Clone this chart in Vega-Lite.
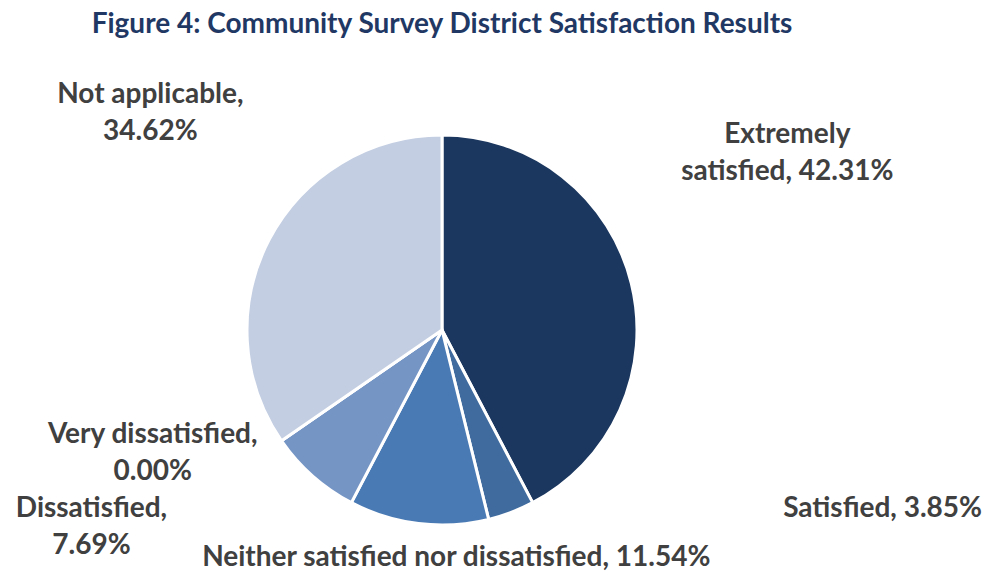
{
  "$schema": "https://vega.github.io/schema/vega-lite/v6.json",
  "width": 884,
  "height": 450,
  "autosize": {"type": "none"},
  "padding": {"left": 0, "top": 105, "right": 107, "bottom": 20},
  "background": "white",
  "title": {
    "text": "Figure 4: Community Survey District Satisfaction Results",
    "font": "Lato",
    "fontSize": 28,
    "fontWeight": "bold",
    "color": "#1f3864",
    "anchor": "middle",
    "frame": "group",
    "baseline": "alphabetic",
    "offset": 8
  },
  "data": {
    "values": [
      {"category": "Extremely satisfied", "label": "Extremely\nsatisfied, 42.31%", "value": 42.31},
      {"category": "Satisfied", "label": "Satisfied, 3.85%", "value": 3.85},
      {"category": "Neither satisfied nor dissatisfied", "label": "Neither satisfied nor dissatisfied, 11.54%", "value": 11.54},
      {"category": "Dissatisfied", "label": "Dissatisfied,\n7.69%", "value": 7.69},
      {"category": "Very dissatisfied", "label": "Very dissatisfied,\n0.00%", "value": 0},
      {"category": "Not applicable", "label": "Not applicable,\n34.62%", "value": 34.62}
    ]
  },
  "transform": [{"window": [{"op": "row_number", "as": "idx"}]}],
  "encoding": {
    "theta": {"field": "value", "type": "quantitative", "stack": true},
    "order": {"field": "idx", "type": "quantitative"}
  },
  "layer": [
    {
      "mark": {"type": "arc", "outerRadius": 195, "stroke": "white", "strokeWidth": 3},
      "encoding": {
        "color": {
          "field": "category",
          "type": "nominal",
          "scale": {
            "domain": ["Extremely satisfied", "Satisfied", "Neither satisfied nor dissatisfied", "Dissatisfied", "Very dissatisfied", "Not applicable"],
            "range": ["#1b375f", "#3f6b9f", "#4a7ab4", "#7595c5", "#5b7fb8", "#c3cee2"]
          },
          "legend": null
        }
      }
    },
    {
      "mark": {"type": "text", "radius": 230, "dx": 122, "dy": -132, "align": "center", "baseline": "alphabetic", "lineBreak": "\n", "lineHeight": 37, "font": "Lato", "fontSize": 28, "fontWeight": "bold", "fill": "#404040"},
      "encoding": {"text": {"condition": {"test": "datum.category === 'Extremely satisfied'", "field": "label"}, "value": ""}}
    },
    {
      "mark": {"type": "text", "radius": 230, "dx": 359, "dy": -28, "align": "center", "baseline": "alphabetic", "lineBreak": "\n", "lineHeight": 37, "font": "Lato", "fontSize": 28, "fontWeight": "bold", "fill": "#404040"},
      "encoding": {"text": {"condition": {"test": "datum.category === 'Satisfied'", "field": "label"}, "value": ""}}
    },
    {
      "mark": {"type": "text", "radius": 230, "dx": 42, "dy": 8, "align": "center", "baseline": "alphabetic", "lineBreak": "\n", "lineHeight": 37, "font": "Lato", "fontSize": 28, "fontWeight": "bold", "fill": "#404040"},
      "encoding": {"text": {"condition": {"test": "datum.category === 'Neither satisfied nor dissatisfied'", "field": "label"}, "value": ""}}
    },
    {
      "mark": {"type": "text", "radius": 230, "dx": -198, "dy": 15, "align": "center", "baseline": "alphabetic", "lineBreak": "\n", "lineHeight": 37, "font": "Lato", "fontSize": 28, "fontWeight": "bold", "fill": "#404040"},
      "encoding": {"text": {"condition": {"test": "datum.category === 'Dissatisfied'", "field": "label"}, "value": ""}}
    },
    {
      "mark": {"type": "text", "radius": 230, "dx": -100, "dy": -18, "align": "center", "baseline": "alphabetic", "lineBreak": "\n", "lineHeight": 37, "font": "Lato", "fontSize": 28, "fontWeight": "bold", "fill": "#404040"},
      "encoding": {"text": {"condition": {"test": "datum.category === 'Very dissatisfied'", "field": "label"}, "value": ""}}
    },
    {
      "mark": {"type": "text", "radius": 230, "dx": -88, "dy": -120, "align": "center", "baseline": "alphabetic", "lineBreak": "\n", "lineHeight": 37, "font": "Lato", "fontSize": 28, "fontWeight": "bold", "fill": "#404040"},
      "encoding": {"text": {"condition": {"test": "datum.category === 'Not applicable'", "field": "label"}, "value": ""}}
    }
  ]
}
